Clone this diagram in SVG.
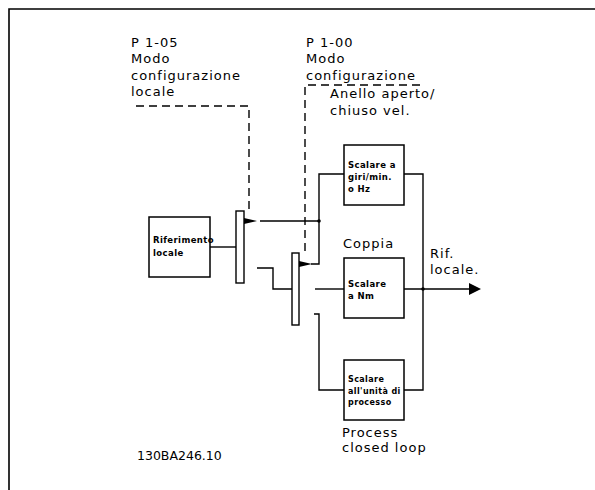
<svg xmlns="http://www.w3.org/2000/svg" width="595" height="490" viewBox="0 0 595 490">
<style>
.ln{fill:none;stroke:#000;stroke-width:1.4}
.dash{fill:none;stroke:#000;stroke-width:1.4;stroke-dasharray:8,5}
.box{fill:#fff;stroke:#000;stroke-width:1.5}
.sw{fill:#fff;stroke:#000;stroke-width:1.4}
.lbl{font-family:"DejaVu Sans",Verdana,sans-serif;font-size:13px;letter-spacing:1px;fill:#000}
.bt{font-family:"DejaVu Sans",sans-serif;font-size:8.5px;font-weight:bold;letter-spacing:0.4px;fill:#000}
.bt3{font-family:"DejaVu Sans",sans-serif;font-size:8px;font-weight:bold;letter-spacing:0.4px;fill:#000}
.code{font-family:"DejaVu Sans",sans-serif;font-size:12.5px;fill:#000}
</style>
<rect width="595" height="490" fill="#fff"/>
<path d="M9,490 V9 H595" fill="none" stroke="#000" stroke-width="1.6"/>

<g id="labels">
<text class="lbl" x="131" y="47">P 1-05</text>
<text class="lbl" x="131" y="63">Modo</text>
<text class="lbl" x="131" y="80">configurazione</text>
<text class="lbl" x="131" y="96">locale</text>
<text class="lbl" x="306" y="47">P 1-00</text>
<text class="lbl" x="306" y="63">Modo</text>
<text class="lbl" x="306" y="80">configurazione</text>
<text class="lbl" x="330" y="98">Anello aperto/</text>
<text class="lbl" x="330" y="115">chiuso vel.</text>
<text class="lbl" x="343" y="248">Coppia</text>
<text class="lbl" x="430" y="258">Rif.</text>
<text class="lbl" x="430" y="274">locale.</text>
<text class="lbl" x="342" y="437">Process</text>
<text class="lbl" x="342" y="452">closed loop</text>
<text class="code" x="137" y="460">130BA246.10</text>
</g>

<g id="connectors">
<polyline class="dash" points="136,106 249,106 249,212"/>
<polyline class="dash" points="420,85 305,85 305,253"/>
<line class="ln" x1="210" y1="247" x2="236" y2="247"/>
<polygon points="244,218 257,221 244,224" fill="#000"/>
<line class="ln" x1="260" y1="221" x2="319" y2="221"/>
<circle cx="319" cy="221" r="1.8" fill="#000"/>
<polygon points="299,261 312,264 299,267" fill="#000"/>
<polyline class="ln" points="311,264 319,264 319,174 344,174"/>
<polyline class="ln" points="257,268 273,268 273,289 292,289"/>
<line class="ln" x1="315" y1="289" x2="344" y2="289"/>
<polyline class="ln" points="314,314 319,314 319,390 344,390"/>
<polyline class="ln" points="404,174 423,174 423,390 404,390"/>
<line class="ln" x1="404" y1="289" x2="470" y2="289"/>
<circle cx="423" cy="289" r="1.8" fill="#000"/>
<polygon points="469,283 481,289 469,295" fill="#000"/>
</g>

<g id="riferimento">
<rect class="box" x="149" y="217" width="61" height="60"/>
<text class="bt" x="153" y="243">Riferimento</text>
<text class="bt" x="153" y="256">locale</text>
</g>
<g id="switch1"><rect class="sw" x="236" y="211" width="8" height="72"/></g>
<g id="switch2"><rect class="sw" x="292" y="253" width="7" height="72"/></g>
<g id="scalare-giri">
<rect class="box" x="344" y="145" width="60" height="60"/>
<text class="bt" x="348" y="168">Scalare a</text>
<text class="bt" x="348" y="180">giri/min.</text>
<text class="bt" x="348" y="192">o Hz</text>
</g>
<g id="scalare-nm">
<rect class="box" x="344" y="258" width="60" height="60"/>
<text class="bt" x="348" y="287">Scalare</text>
<text class="bt" x="348" y="299">a Nm</text>
</g>
<g id="scalare-processo">
<rect class="box" x="344" y="360" width="60" height="60"/>
<text class="bt3" x="348" y="382">Scalare</text>
<text class="bt3" x="348" y="394">all'unità di</text>
<text class="bt3" x="348" y="405">processo</text>
</g>
</svg>
